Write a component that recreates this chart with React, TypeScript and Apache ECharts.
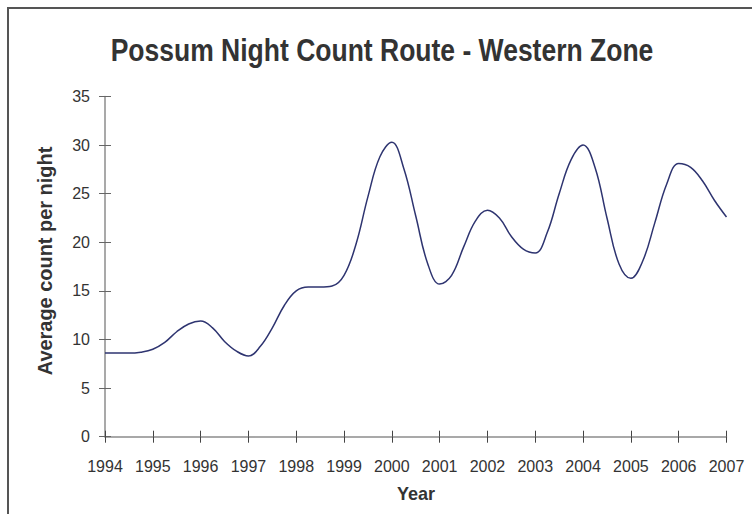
import React, { useEffect, useRef } from "react";
import * as echarts from "echarts";

const years: number[] = [
  1994.0, 1994.25, 1994.5, 1994.75, 1995.0, 1995.25, 1995.5, 1995.75,
  1996.0, 1996.25, 1996.5, 1996.75, 1997.0, 1997.25, 1997.5, 1997.75,
  1998.0, 1998.25, 1998.5, 1998.75, 1999.0, 1999.25, 1999.5, 1999.75,
  2000.0, 2000.25, 2000.5, 2000.75, 2001.0, 2001.25, 2001.5, 2001.75,
  2002.0, 2002.25, 2002.5, 2002.75, 2003.0, 2003.25, 2003.5, 2003.75,
  2004.0, 2004.25, 2004.5, 2004.75, 2005.0, 2005.25, 2005.5, 2005.75,
  2006.0, 2006.25, 2006.5, 2006.75, 2007.0,
];
const counts: number[] = [
  8.6, 8.6, 8.6, 8.7, 9.0, 9.7, 10.8, 11.6,
  11.9, 11.2, 9.8, 8.8, 8.3, 9.3, 11.2, 13.5,
  15.0, 15.4, 15.4, 15.5, 16.6, 19.8, 24.7, 28.8,
  30.3, 27.6, 22.7, 17.8, 15.7, 16.6, 19.5, 22.2,
  23.3, 22.5, 20.6, 19.3, 18.9, 21.0, 25.0, 28.5,
  30.0, 27.7, 22.5, 17.8, 16.3, 18.1, 22.0, 26.0,
  28.1, 27.7, 26.3, 24.3, 22.6,
];

const title = "Possum Night Count Route - Western Zone";
const xName = "Year";
const yName = "Average count per night";

const FONT = "'Liberation Sans', Arial, Helvetica, sans-serif";

export default function App() {
  const ref = useRef<HTMLDivElement>(null);
  useEffect(() => {
    if (!ref.current) return;
    const chart = echarts.init(ref.current, undefined, { renderer: "svg" });
    const data = years.map((y, i) => [y, counts[i]]);
    const grid = { left: 105, right: 25.5, top: 96.5, bottom: 77.3 };
    chart.setOption({
      animation: false,
      backgroundColor: "#ffffff",
      graphic: [
        {
          type: "rect",
          shape: { x: 8, y: 8, width: 800, height: 600 },
          style: { fill: "none", stroke: "#555555", lineWidth: 2 },
          silent: true,
        },
        {
          type: "text",
          x: 382,
          y: 50,
          scaleX: 0.855,
          style: {
            text: title,
            font: `bold 31px ${FONT}`,
            fill: "#333333",
            textAlign: "center",
            textVerticalAlign: "middle",
          },
        },
        {
          type: "text",
          x: 44,
          y: 261,
          rotation: Math.PI / 2,
          scaleX: 0.95,
          style: {
            text: yName,
            font: `bold 21px ${FONT}`,
            fill: "#333333",
            textAlign: "center",
            textVerticalAlign: "middle",
          },
        },
        {
          type: "text",
          x: 416,
          y: 493,
          scaleX: 0.95,
          style: {
            text: xName,
            font: `bold 19px ${FONT}`,
            fill: "#333333",
            textAlign: "center",
            textVerticalAlign: "middle",
          },
        },
      ],
      grid,
      xAxis: [
        {
          type: "value",
          min: 1994,
          max: 2007,
          interval: 1,
          axisLine: { show: true, lineStyle: { color: "#8c8c8c", width: 1.5 } },
          axisTick: { show: true, inside: false, length: 6, lineStyle: { color: "#444444" } },
          axisLabel: {
            margin: 22,
            fontFamily: FONT,
            fontSize: 16,
            color: "#333333",
            formatter: (v: number) => String(v),
          },
          splitLine: { show: false },
        },
        {
          type: "value",
          min: 1994,
          max: 2007,
          interval: 1,
          position: "bottom",
          axisLine: { show: false },
          axisTick: { show: true, inside: true, length: 6, lineStyle: { color: "#444444" } },
          axisLabel: { show: false },
          splitLine: { show: false },
        },
      ],
      yAxis: [
        {
          type: "value",
          min: 0,
          max: 35,
          interval: 5,
          axisLine: { show: true, lineStyle: { color: "#8c8c8c", width: 1.5 } },
          axisTick: { show: true, inside: false, length: 6, lineStyle: { color: "#666666" } },
          axisLabel: { margin: 15, fontFamily: FONT, fontSize: 16, color: "#333333" },
          splitLine: { show: false },
        },
        {
          type: "value",
          min: 0,
          max: 35,
          interval: 5,
          position: "left",
          axisLine: { show: false },
          axisTick: { show: true, inside: true, length: 6, lineStyle: { color: "#666666" } },
          axisLabel: { show: false },
          splitLine: { show: false },
        },
      ],
      series: [
        {
          type: "line",
          data,
          smooth: 0.4,
          showSymbol: false,
          lineStyle: { color: "#2e3470", width: 1.5 },
        },
      ],
    });
    return () => chart.dispose();
  }, []);
  return <div ref={ref} style={{ width: 752, height: 514, position: "absolute", left: 0, top: 0 }} />;
}
